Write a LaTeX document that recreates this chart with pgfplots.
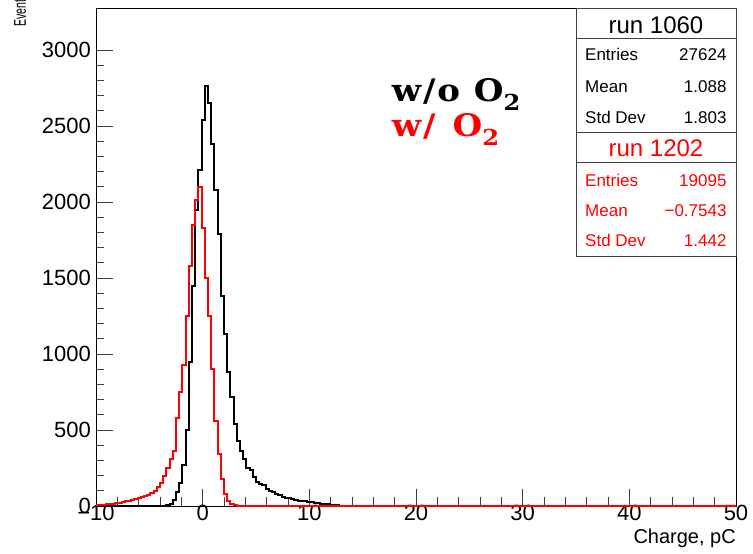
\documentclass[border=0pt]{standalone}
\usepackage{pgfplots}
\pgfplotsset{compat=1.18}
\usepackage{fontspec}
\setmainfont{Liberation Sans}
\newfontfamily\anno{DejaVu Serif}[FakeStretch=1.1, LetterSpace=6]
\definecolor{rootred}{RGB}{255,0,0}
\begin{document}
\begin{tikzpicture}[x=1pt,y=1pt]
\begin{axis}[
  at={(0,0)}, anchor=south west,
  scale only axis, width=640pt, height=498pt,
  xmin=-10, xmax=50, ymin=0, ymax=3276,
  clip=false,
  axis line style={line width=0.8pt},
  xtick={-10,0,...,50}, xticklabels={−10,0,10,20,30,40,50},
  ytick={0,500,...,3000}, yticklabels={0,500,1000,1500,2000,2500,3000},
  minor x tick num=4, minor y tick num=4,
  tick align=inside, xtick pos=left, ytick pos=left,
  major tick length=17pt, minor tick length=8.5pt,
  tick style={line width=0.6pt, black!75},
  xticklabel style={font=\fontsize{22}{22}\selectfont, anchor=base, yshift=-15pt, inner sep=0pt},
  yticklabel style={font=\fontsize{22}{22}\selectfont, anchor=east, inner sep=0pt, xshift=-5pt},
]
\addplot[const plot, black, line width=2pt] coordinates {
(-10,0) (-3.7,2) (-3.4,5) (-3.1,15) (-2.8,40) (-2.5,90) (-2.2,150) (-1.9,270) (-1.6,500) (-1.3,950) (-1.0,1450) (-0.7,1950) (-0.4,2210) (-0.1,2540) (0.2,2760) (0.5,2650) (0.8,2380) (1.1,2080) (1.4,1790) (1.7,1380) (2.0,1130) (2.3,880) (2.6,720) (2.9,540) (3.2,430) (3.5,365) (3.8,310) (4.1,250) (4.4,235) (4.7,190) (5.0,160) (5.3,145) (5.6,135) (5.9,115) (6.2,100) (6.5,90) (6.8,80) (7.1,70) (7.4,62) (7.7,55) (8.0,50) (8.3,45) (8.6,40) (8.9,36) (9.2,33) (9.5,30) (9.8,27) (10.1,24) (10.4,20) (10.7,18) (11.0,15) (11.3,12) (11.6,10) (11.9,8) (12.2,6) (12.5,4) (12.8,3) (13.1,2) (13.4,1) (13.7,0) (50,0)
};
\addplot[const plot, rootred, line width=2pt] coordinates {
(-10,4) (-9.7,6) (-9.4,8) (-9.1,10) (-8.8,12) (-8.5,15) (-8.2,18) (-7.9,22) (-7.6,28) (-7.3,32) (-7.0,36) (-6.7,40) (-6.4,45) (-6.1,50) (-5.8,58) (-5.5,65) (-5.2,75) (-4.9,85) (-4.6,100) (-4.3,125) (-4.0,150) (-3.7,200) (-3.4,250) (-3.1,310) (-2.8,360) (-2.5,580) (-2.2,750) (-1.9,930) (-1.6,1250) (-1.3,1580) (-1.0,1850) (-0.7,2010) (-0.4,2100) (-0.1,1830) (0.2,1500) (0.5,1250) (0.8,900) (1.1,560) (1.4,340) (1.7,180) (2.0,80) (2.3,35) (2.6,12) (2.9,4) (3.2,1) (3.5,0) (50,0)
};
\end{axis}
% stats boxes
\draw[line width=0.8pt, black!75, fill=white] (480,374) rectangle (640,498);
\draw[line width=0.8pt, black!75] (480,468) -- (640,468);
\draw[line width=0.8pt, black!75, fill=white] (480,250) rectangle (640,374);
\draw[line width=0.8pt, black!75] (480,344) -- (640,344);
\node[anchor=base, font=\fontsize{24}{24}\selectfont] at (560,472.7) {run 1060};
\begin{scope}[every node/.style={font=\fontsize{17}{17}\selectfont, inner sep=0pt}]
\node[anchor=base west] at (489,445) {Entries};
\node[anchor=base east] at (630.7,445) {27624};
\node[anchor=base west] at (489,413.7) {Mean};
\node[anchor=base east] at (630.7,413.7) {1.088};
\node[anchor=base west] at (489,382.7) {Std Dev};
\node[anchor=base east] at (630.7,382.7) {1.803};
\end{scope}
\node[anchor=base, text=rootred, font=\fontsize{24}{24}\selectfont] at (560,349.3) {run 1202};
\begin{scope}[every node/.style={font=\fontsize{17}{17}\selectfont, inner sep=0pt, text=rootred}]
\node[anchor=base west] at (489,319.3) {Entries};
\node[anchor=base east] at (630.7,319.3) {19095};
\node[anchor=base west] at (489,289.3) {Mean};
\node[anchor=base east] at (630.7,289.3) {−0.7543};
\node[anchor=base west] at (489,259.3) {Std Dev};
\node[anchor=base east] at (630.7,259.3) {1.442};
\end{scope}
% annotations
\node[anchor=base west, inner sep=0pt, font=\anno\bfseries\fontsize{31}{31}\selectfont] at (295.7,404.3) {w/o O\raisebox{-0.27em}{\fontsize{22}{22}\selectfont 2}};
\node[anchor=base west, inner sep=0pt, text=rootred, font=\anno\bfseries\fontsize{31}{31}\selectfont] at (295.7,369.3) {w/\hspace{0.55em}O\raisebox{-0.27em}{\fontsize{22}{22}\selectfont 2}};
% axis titles
\node[anchor=base east, inner sep=0pt, font=\fontsize{20}{20}\selectfont] at (640,-38) {Charge, pC};
\node[anchor=base west, inner sep=0pt, rotate=90, font=\fontsize{17}{17}\selectfont] at (-70,479) {\scalebox{0.62}[1]{Events}};
\pgfresetboundingbox
\useasboundingbox (-96,-48) rectangle (657,506);
\end{tikzpicture}
\end{document}
